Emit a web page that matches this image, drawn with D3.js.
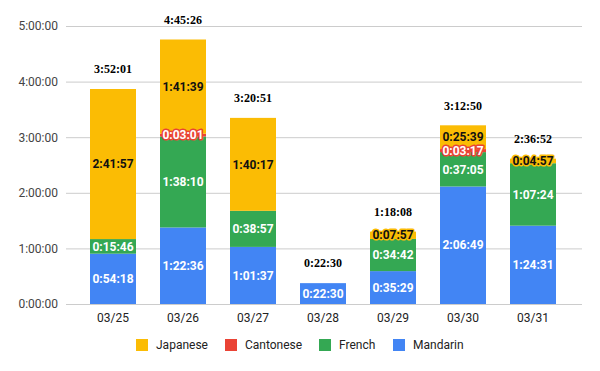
<!DOCTYPE html>
<html>
<head>
<meta charset="utf-8">
<script src="https://cdn.jsdelivr.net/npm/d3@7"></script>
<style>
  body { margin: 0; background: #fff; }
  svg { display: block; }
</style>
</head>
<body>
<div id="main"></div>
<script>
const ctx = {
    w: 600,
    h: 371,
};

// data (h:mm:ss)
const days = ["03/25", "03/26", "03/27", "03/28", "03/29", "03/30", "03/31"];
const mandarin  = ["0:54:18", "1:22:36", "1:01:37", "0:22:30", "0:35:29", "2:06:49", "1:24:31"];
const french    = ["0:15:46", "1:38:10", "0:38:57", "0:00:00", "0:34:42", "0:37:05", "1:07:24"];
const cantonese = ["0:00:00", "0:03:01", "0:00:00", "0:00:00", "0:00:00", "0:03:17", "0:00:00"];
const japanese  = ["2:41:57", "1:41:39", "1:40:17", "0:00:00", "0:07:57", "0:25:39", "0:04:57"];
const yTicks = [0, 1, 2, 3, 4, 5]; // hours

const seriesNames = ["Mandarin", "French", "Cantonese", "Japanese"];
const seriesVals = [mandarin, french, cantonese, japanese];
const colors = {
    Mandarin: "#4285f4",
    French: "#34a853",
    Cantonese: "#ea4335",
    Japanese: "#fbbc04",
};
const labelColor = {
    Mandarin: "#fff",
    French: "#fff",
    Cantonese: "#fff",
    Japanese: "#111",
};
const legendOrder = ["Japanese", "Cantonese", "French", "Mandarin"];

function toSec(s) {
    let p = s.split(":").map(Number);
    return p[0] * 3600 + p[1] * 60 + p[2];
}
function fmt(sec) {
    let h = Math.floor(sec / 3600);
    let m = Math.floor((sec % 3600) / 60);
    let s = sec % 60;
    return h + ":" + String(m).padStart(2, "0") + ":" + String(s).padStart(2, "0");
}

function createChart(svg) {
    let rows = days.map((d, i) => {
        let r = { day: d };
        seriesNames.forEach((n, j) => r[n] = toSec(seriesVals[j][i]));
        return r;
    });

    let x = d3.scaleBand()
              .domain(days)
              .range([78, 568])
              .paddingInner(0.343)
              .paddingOuter(0.1715);
    let y = d3.scaleLinear()
              .domain([0, 5 * 3600])
              .range([304, 26]);

    // grid + y labels
    let yAxis = d3.axisLeft(y)
                  .tickValues(yTicks.map(h => h * 3600))
                  .tickFormat(fmt)
                  .tickSize(-(582 - 66))
                  .tickPadding(8);
    let gy = svg.append("g")
                .attr("transform", "translate(66,0)")
                .call(yAxis);
    gy.select(".domain").remove();
    gy.selectAll("line").attr("stroke", "#cccccc");
    gy.selectAll("text")
      .attr("font-family", "Roboto, sans-serif")
      .attr("font-size", 12)
      .attr("fill", "#444");

    // x labels
    let xAxis = d3.axisBottom(x).tickSize(0).tickPadding(9);
    let gx = svg.append("g")
                .attr("transform", "translate(0,304)")
                .call(xAxis);
    gx.select(".domain").remove();
    gx.selectAll("text")
      .attr("font-family", "Roboto, sans-serif")
      .attr("font-size", 12)
      .attr("fill", "#222");

    let stack = d3.stack().keys(seriesNames)(rows);

    // bars
    let layers = svg.selectAll("g.layer")
                    .data(stack)
                    .enter().append("g")
                    .attr("class", "layer")
                    .attr("fill", d => colors[d.key]);
    layers.selectAll("rect")
          .data(d => d.filter(s => s[1] > s[0]))
          .enter().append("rect")
          .attr("x", d => x(d.data.day))
          .attr("width", x.bandwidth())
          .attr("y", d => y(d[1]))
          .attr("height", d => y(d[0]) - y(d[1]));

    // segment labels
    stack.forEach(layer => {
        svg.append("g")
           .selectAll("text")
           .data(layer.filter(s => s[1] > s[0]))
           .enter().append("text")
           .attr("x", d => x(d.data.day) + x.bandwidth() / 2)
           .attr("y", d => (y(d[0]) + y(d[1])) / 2)
           .attr("dy", "0.35em")
           .attr("text-anchor", "middle")
           .attr("font-family", "Roboto, sans-serif")
           .attr("font-size", 12)
           .attr("font-weight", "bold")
           .attr("fill", labelColor[layer.key])
           .attr("stroke", colors[layer.key])
           .attr("stroke-width", 3)
           .attr("stroke-linejoin", "round")
           .attr("paint-order", "stroke")
           .text(d => fmt(d[1] - d[0]));
    });

    // totals
    svg.append("g")
       .selectAll("text")
       .data(rows)
       .enter().append("text")
       .attr("x", d => x(d.day) + x.bandwidth() / 2)
       .attr("y", d => y(d3.sum(seriesNames, n => d[n])) - 20)
       .attr("dy", "0.35em")
       .attr("text-anchor", "middle")
       .attr("font-family", "'Liberation Serif', 'Times New Roman', serif")
       .attr("font-size", 12)
       .attr("font-weight", "bold")
       .attr("fill", "#000")
       .text(d => fmt(d3.sum(seriesNames, n => d[n])));

    // legend
    let legendX = { Japanese: 136, Cantonese: 225, French: 319, Mandarin: 393 };
    let lg = svg.append("g")
                .selectAll("g")
                .data(legendOrder)
                .enter().append("g")
                .attr("transform", d => `translate(${legendX[d]},339)`);
    lg.append("rect")
      .attr("width", 12)
      .attr("height", 12)
      .attr("fill", d => colors[d]);
    lg.append("text")
      .attr("x", 20)
      .attr("y", 6)
      .attr("dy", "0.35em")
      .attr("font-family", "Roboto, sans-serif")
      .attr("font-size", 12)
      .attr("fill", "#222")
      .text(d => d);
}

let svgEl = d3.select("#main").append("svg")
              .attr("width", ctx.w)
              .attr("height", ctx.h);
createChart(svgEl);
</script>
</body>
</html>
